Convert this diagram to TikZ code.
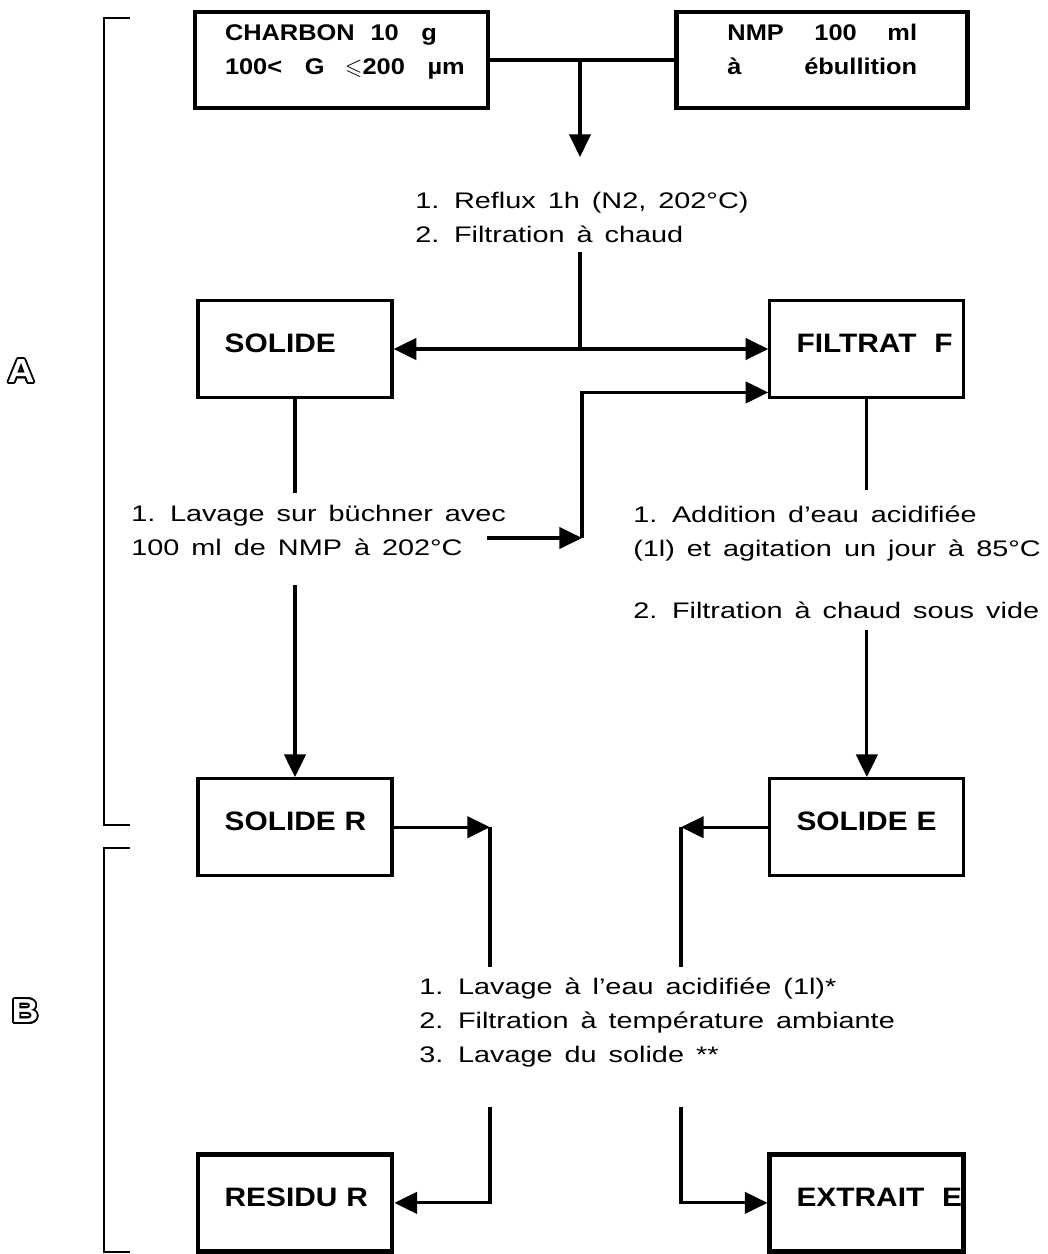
\documentclass[tikz,border=0pt]{standalone}
\usepackage{amsmath,amssymb}
\usepackage{fontspec}
\usepackage[copies]{contour}
\setmainfont{Liberation Sans}[FakeStretch=1.28,WordSpace=1.5]
\newfontfamily\boxfont{Liberation Sans}[FakeStretch=1.12]
\usetikzlibrary{positioning,calc,arrows.meta}
\contourlength{1.3pt}
\contournumber{24}

\begin{document}
\begin{tikzpicture}[
    x=0.75pt, y=-0.75pt,
    every node/.style={font=\fontsize{16.9pt}{25.5pt}\selectfont},
    box/.style={rectangle, draw, line width=2.4pt, minimum width=145.5pt,
                minimum height=72.75pt, inner xsep=20pt, text width=105.5pt,
                text depth=9pt, align=left,
                font=\boxfont\bfseries\fontsize{20pt}{24pt}\selectfont},
    thickbox/.style={box, line width=3.6pt},
    topbox/.style={rectangle, draw, line width=3.6pt, minimum height=72pt,
                   text depth=41pt, align=left,
                   font=\boxfont\bfseries\fontsize{17pt}{25.5pt}\selectfont},
    note/.style={inner sep=0pt, align=left, anchor=base west},
    partlabel/.style={font=\boxfont\bfseries\fontsize{25pt}{28pt}\selectfont},
    link/.style={line width=2.4pt},
    arrow/.style={-{Triangle[length=17pt, width=16pt]}, line width=2.4pt},
    bracket/.style={line width=2.2pt},
]
\useasboundingbox (0,0) rectangle (1047,1254);
% feed boxes
\node[topbox, inner xsep=22.5pt, text width=174.75pt] (charbon) at (341.5,60)
    {CHARBON\hspace{0.7em}10\hspace{1em}g\\\mbox{100<\hspace{1em}G\hspace{0.9em}$\leqslant$200\hspace{1em}µm}};
\node[topbox, inner xsep=38pt, text width=142.25pt, right=138pt of charbon] (nmp)
    {NMP\hfill 100\hfill ml\\à\hfill ébullition};
% part A
\node[box] (solide) at (295,349) {SOLIDE};
\node[box, right=281pt of solide] (filtrat) {FILTRAT~~F};
\node[box, below=283.5pt of solide] (solider) {SOLIDE~R};
\node[box, below=283.5pt of filtrat] (solidee) {SOLIDE~E};
% part B
\node[thickbox, below=206pt of solider] (residu) {RESIDU~R};
\node[thickbox, below=206pt of solidee] (extrait) {EXTRAIT~~E};

\node[note] (reflux) at (415,242) {1. Reflux 1h (N2, 202°C)\\2. Filtration à chaud};
\node[note] (lavage) at (131,555) {1. Lavage sur büchner avec\\100 ml de NMP à 202°C};
\node[note] (addition) at (633,618)
    {1. Addition d'eau acidifiée\\(1l) et agitation un jour à 85°C\\[21pt]2. Filtration à chaud sous vide};
\node[note] (lavageb) at (419,1062)
    {1. Lavage à l'eau acidifiée (1l)*\\2. Filtration à température ambiante\\3. Lavage du solide **};

\node[partlabel] (parta) at (21,372) {\contour{black}{\textcolor{white}{A}}};
\node[partlabel] (partb) at (25,1012) {\contour{black}{\textcolor{white}{B}}};

\coordinate (feedend) at (580,157);
\coordinate (refluxend) at (580,252);
\coordinate (solideend) at (297,493);
\coordinate (lavagestart) at (297,585);
\coordinate (lavageout) at (487,538);
\coordinate (retour) at (582,538);
\coordinate (filtratend) at (869,490);
\coordinate (additionend) at (869,630);
\coordinate (washl) at (490,967);
\coordinate (washr) at (681,967);
\coordinate (residl) at (490,1107);
\coordinate (residr) at (681,1107);

\draw[link] (charbon.east) -- (nmp.west);
\draw[arrow] (feedend |- charbon.east) -- (feedend);
\draw[link] (refluxend) -- (refluxend |- solide.east);
\draw[arrow] (refluxend |- solide.east) -- (solide.east);
\draw[arrow] (refluxend |- solide.east) -- (filtrat.west |- solide.east);
\draw[link] (solide.south) -- (solide.south |- solideend);
\draw[arrow] (solider.north |- lavagestart) -- (solider.north);
\draw[arrow] (lavageout) -- (retour);
\draw[arrow] (retour) |- ([yshift=5pt]filtrat.south west);
\draw[link] (filtrat.south) -- (filtrat.south |- filtratend);
\draw[arrow] (solidee.north |- additionend) -- (solidee.north);
\draw[arrow] (solider.east) -- (solider.east -| washl);
\draw[link] (solider.east -| washl) -- (washl);
\draw[arrow] (solidee.west) -- (solidee.west -| washr);
\draw[link] (solidee.west -| washr) -- (washr);
\draw[arrow] (residl) |- (residu.east);
\draw[arrow] (residr) |- (extrait.west);

% brackets
\draw[bracket] (130,18) -- (104,18) -- (104,825) -- (130,825);
\draw[bracket] (130,848) -- (104,848) -- (104,1252) -- (130,1252);
\end{tikzpicture}
\end{document}
